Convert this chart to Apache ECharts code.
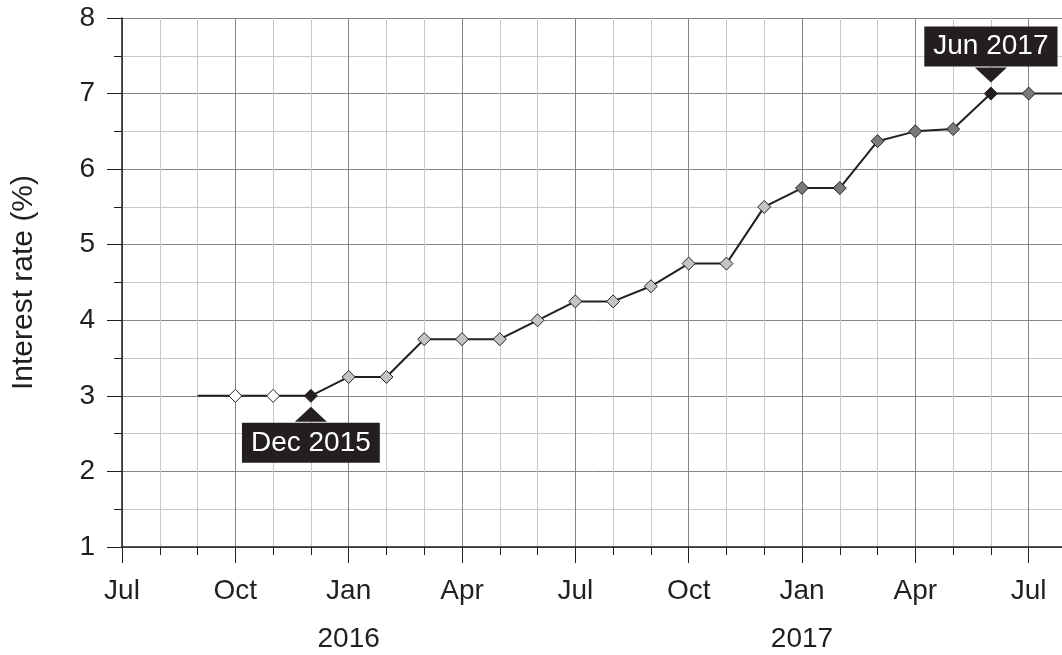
<!DOCTYPE html>
<html>
<head>
<meta charset="utf-8">
<script src="https://cdn.jsdelivr.net/npm/echarts@6/dist/echarts.min.js"></script>
<style>
  html, body { margin: 0; padding: 0; background: #fff; }
  #chart { width: 1062px; height: 655px; }
</style>
</head>
<body>
<div id="chart"></div>
<script>
// monthly rate readings (first and last only carry the line to the edges)
const months = [
  'Sep 2015', 'Oct 2015', 'Nov 2015', 'Dec 2015',
  'Jan 2016', 'Feb 2016', 'Mar 2016', 'Apr 2016', 'May 2016', 'Jun 2016',
  'Jul 2016', 'Aug 2016', 'Sep 2016', 'Oct 2016', 'Nov 2016', 'Dec 2016',
  'Jan 2017', 'Feb 2017', 'Mar 2017', 'Apr 2017', 'May 2017', 'Jun 2017',
  'Jul 2017', 'Aug 2017'
]
const rates = [
  3, 3, 3, 3,
  3.25, 3.25, 3.75, 3.75, 3.75, 4.0,
  4.25, 4.25, 4.45, 4.75, 4.75, 5.5,
  5.75, 5.75, 6.37, 6.5, 6.53, 7.0,
  7.0, 7.0
]
const noMarker = ['Sep 2015', 'Aug 2017']
const highlighted = ['Dec 2015', 'Jun 2017']
const monthNames = ['Jan', 'Feb', 'Mar', 'Apr', 'May', 'Jun', 'Jul', 'Aug', 'Sep', 'Oct', 'Nov', 'Dec']
const startYear = 2015
const startMonth = 6 // Jul
const yTicks = [1, 2, 3, 4, 5, 6, 7, 8]

const ink = '#231f20'
const font = 'Liberation Sans, Arial, sans-serif'

const monthIndex = (label) => {
  const [m, y] = label.split(' ')
  return (Number(y) - startYear) * 12 + monthNames.indexOf(m) - startMonth
}

const fillFor = (label) => {
  if (highlighted.includes(label)) return ink
  const y = label.split(' ')[1]
  if (y === '2015') return '#ffffff'
  if (y === '2016') return '#c4c4c4'
  return '#7a7a7a'
}

const calloutLabel = (label) => ({
  show: true,
  position: label === 'Dec 2015' ? 'bottom' : 'top',
  distance: 20,
  formatter: label,
  backgroundColor: ink,
  color: '#fff',
  fontFamily: font,
  fontSize: 28,
  lineHeight: 28,
  padding: [6, 9, 6, 9]
})

const lineData = months.map((m, i) => {
  const item = {
    name: m,
    value: [monthIndex(m), rates[i]],
    symbol: noMarker.includes(m) ? 'none' : 'diamond',
    itemStyle: { color: fillFor(m), borderColor: ink, borderWidth: 1 }
  }
  if (highlighted.includes(m)) item.label = calloutLabel(m)
  return item
})

// little pointers joining the callout boxes to their points
const pointerData = highlighted.map(m => {
  const up = m === 'Dec 2015'
  return {
    value: [monthIndex(m), rates[months.indexOf(m)]],
    symbolRotate: up ? 0 : 180,
    symbolOffset: [0, up ? 18.5 : -18.5]
  }
})

const chart = echarts.init(document.getElementById('chart'))
chart.setOption({
  animation: false,
  grid: { left: 122, right: -80, top: 18, bottom: 108, outerBoundsMode: 'none' },
  xAxis: {
    type: 'value',
    min: 0,
    max: 27,
    interval: 3,
    axisLine: { lineStyle: { color: ink, width: 1.5 } },
    axisTick: { length: 16, lineStyle: { color: ink } },
    minorTick: { show: true, splitNumber: 3, length: 8, lineStyle: { color: ink } },
    splitLine: { show: true, lineStyle: { color: '#858585', width: 1 } },
    minorSplitLine: { show: true, lineStyle: { color: '#c8c8c8', width: 1 } },
    axisLabel: {
      color: ink,
      fontFamily: font,
      fontSize: 28,
      lineHeight: 48,
      margin: 20,
      formatter: (v) => {
        if (!Number.isInteger(v) || v > 24) return ''
        const m = (startMonth + v) % 12
        const y = startYear + Math.floor((startMonth + v) / 12)
        return m === 0 ? monthNames[m] + '\n' + y : monthNames[m]
      }
    }
  },
  yAxis: {
    type: 'value',
    min: yTicks[0],
    max: yTicks[yTicks.length - 1],
    interval: 1,
    name: 'Interest rate (%)',
    nameLocation: 'middle',
    nameGap: 83,
    nameTextStyle: { color: ink, fontFamily: font, fontSize: 30 },
    axisLine: { show: true, lineStyle: { color: ink, width: 1.5 } },
    axisTick: { show: true, length: 15, lineStyle: { color: ink } },
    minorTick: { show: true, splitNumber: 2, length: 8, lineStyle: { color: ink } },
    splitLine: { show: true, lineStyle: { color: '#858585', width: 1 } },
    minorSplitLine: { show: true, lineStyle: { color: '#c8c8c8', width: 1 } },
    axisLabel: { color: ink, fontFamily: font, fontSize: 28, margin: 27 }
  },
  series: [
    {
      type: 'line',
      data: lineData,
      symbolSize: 13,
      showAllSymbol: true,
      lineStyle: { color: ink, width: 2 },
      z: 3
    },
    {
      type: 'scatter',
      data: pointerData,
      symbol: 'triangle',
      symbolSize: [32, 15],
      itemStyle: { color: ink, opacity: 1 },
      z: 4
    }
  ]
})
</script>
</body>
</html>
